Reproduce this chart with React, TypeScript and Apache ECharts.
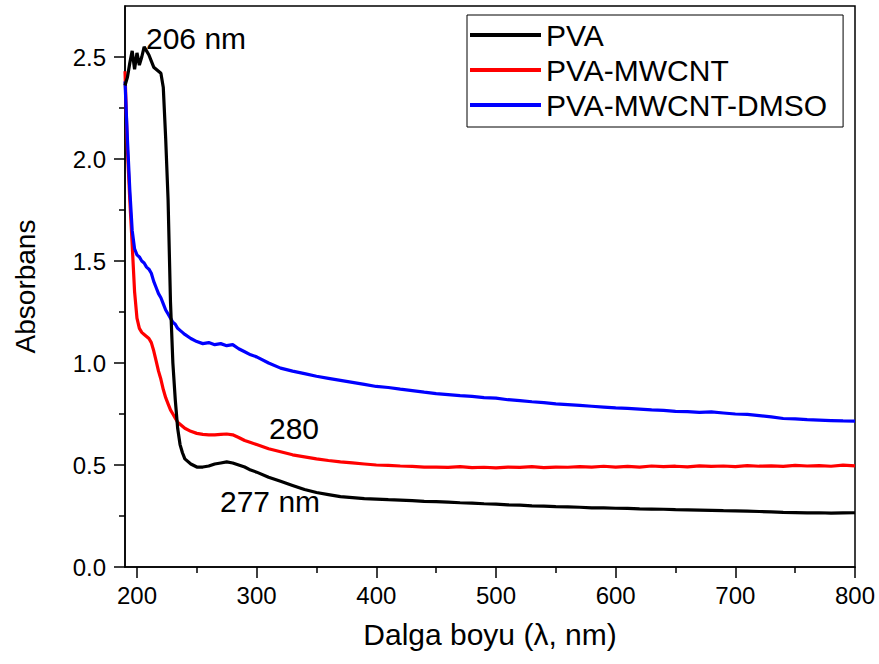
import React, { useEffect, useRef } from "react";
import * as echarts from "echarts";

const wavelength = [
  190, 192, 194, 196, 198, 200, 202, 204, 206, 208, 210, 212, 214, 216, 218, 220, 222, 224, 226, 228,
  230, 232, 234, 236, 238, 240, 245, 250, 255, 260, 265, 270, 275, 280, 285, 290, 295,
  300, 310, 320, 330, 340, 350, 360, 370, 380, 390, 400, 410, 420, 430, 440, 450, 460, 470, 480, 490,
  500, 510, 520, 530, 540, 550, 560, 570, 580, 590, 600, 610, 620, 630, 640, 650, 660, 670, 680, 690,
  700, 710, 720, 730, 740, 750, 760, 770, 780, 790, 800,
];

const pva = [
  2.36, 2.4, 2.47, 2.53, 2.44, 2.52, 2.46, 2.5, 2.55, 2.53, 2.51, 2.48, 2.45, 2.44, 2.43, 2.42, 2.35, 2.1, 1.8, 1.3,
  1.0, 0.82, 0.68, 0.6, 0.56, 0.53, 0.505, 0.49, 0.49, 0.495, 0.505, 0.51, 0.515, 0.51, 0.5, 0.49, 0.475,
  0.465, 0.44, 0.42, 0.4, 0.38, 0.365, 0.355, 0.345, 0.34, 0.335, 0.333, 0.33, 0.328, 0.325, 0.322, 0.32, 0.318, 0.315, 0.313, 0.31,
  0.308, 0.305, 0.303, 0.3, 0.298, 0.296, 0.295, 0.293, 0.29, 0.29, 0.288, 0.287, 0.285, 0.284, 0.283, 0.281, 0.28, 0.279, 0.278, 0.276,
  0.275, 0.274, 0.272, 0.27, 0.268, 0.267, 0.265, 0.266, 0.264, 0.265, 0.266,
];

const pvaMwcnt = [
  2.43, 2.05, 1.8, 1.58, 1.35, 1.22, 1.17, 1.15, 1.14, 1.13, 1.12, 1.1, 1.06, 1.01, 0.96, 0.92, 0.87, 0.83, 0.8, 0.77,
  0.75, 0.73, 0.71, 0.7, 0.69, 0.68, 0.665, 0.655, 0.65, 0.648, 0.648, 0.65, 0.652, 0.648, 0.635, 0.62, 0.61,
  0.6, 0.58, 0.565, 0.55, 0.54, 0.53, 0.522, 0.515, 0.51, 0.505, 0.5, 0.498, 0.495, 0.493, 0.49, 0.49, 0.488, 0.492, 0.487, 0.489,
  0.486, 0.49, 0.488, 0.492, 0.487, 0.49, 0.489, 0.492, 0.49, 0.494, 0.49, 0.493, 0.49, 0.495, 0.492, 0.494, 0.491, 0.496, 0.493, 0.495,
  0.492, 0.497, 0.494, 0.496, 0.493, 0.498, 0.495, 0.497, 0.494, 0.499, 0.496,
];

const pvaMwcntDmso = [
  2.38, 2.1, 1.85, 1.65, 1.56, 1.53, 1.52, 1.5, 1.49, 1.47, 1.46, 1.44, 1.4, 1.37, 1.34, 1.32, 1.29, 1.26, 1.24, 1.22,
  1.2, 1.19, 1.17, 1.16, 1.15, 1.14, 1.12, 1.105, 1.095, 1.1, 1.09, 1.095, 1.085, 1.09, 1.07, 1.055, 1.04,
  1.03, 1.0, 0.975, 0.96, 0.948, 0.935, 0.925, 0.915, 0.905, 0.895, 0.885, 0.88, 0.872, 0.865, 0.857, 0.85, 0.845, 0.84, 0.836, 0.83,
  0.828, 0.82, 0.816, 0.81, 0.806, 0.8, 0.796, 0.792, 0.788, 0.784, 0.78, 0.778, 0.774, 0.77, 0.768, 0.763, 0.762, 0.758, 0.76, 0.755,
  0.75, 0.748, 0.742, 0.736, 0.728, 0.726, 0.722, 0.72, 0.718, 0.716, 0.715,
];

const xMajor = [200, 300, 400, 500, 600, 700, 800];
const xMinor = [250, 350, 450, 550, 650, 750];
const yMajor = [0, 0.5, 1.0, 1.5, 2.0, 2.5];
const yMinor = [0.25, 0.75, 1.25, 1.75, 2.25];

const seriesNames = ["PVA", "PVA-MWCNT", "PVA-MWCNT-DMSO"];
const seriesColors = ["#000000", "#ff0000", "#0000ff"];
const seriesValues = [pva, pvaMwcnt, pvaMwcntDmso];

const FONT = "Liberation Sans, Arial, sans-serif";

export default function App() {
  const ref = useRef<HTMLDivElement>(null);
  useEffect(() => {
    document.body.style.margin = "0";
    if (!ref.current) return;
    const chart = echarts.init(ref.current, null, { renderer: "svg" });
    const axisText = { color: "#000", fontSize: 24, fontFamily: FONT };
    const tickStyle = { color: "#000", width: 1.5 };
    chart.setOption({
      animation: false,
      backgroundColor: "#fff",
      grid: {
        left: 125,
        right: 24,
        top: 6,
        bottom: 97,
        show: true,
        borderColor: "#000",
        borderWidth: 1.5,
      },
      legend: {
        data: seriesNames,
        orient: "vertical",
        left: 467,
        top: 15,
        borderColor: "#000",
        borderWidth: 1,
        padding: [5, 16, 7, 3],
        itemGap: 5,
        itemWidth: 71,
        itemHeight: 4,
        icon: "rect",
        textStyle: { color: "#000", fontSize: 30, fontFamily: FONT, lineHeight: 30 },
      },
      xAxis: [
        {
          type: "value",
          min: 190,
          max: 800,
          name: "Dalga boyu (λ, nm)",
          nameLocation: "middle",
          nameGap: 52,
          nameTextStyle: { color: "#000", fontSize: 30, fontFamily: FONT },
          axisLine: { lineStyle: { color: "#000", width: 1.5 } },
          axisTick: { show: true, customValues: xMajor, length: 11, lineStyle: tickStyle },
          axisLabel: { ...axisText, customValues: xMajor, margin: 16 },
          splitLine: { show: false },
        },
        {
          type: "value",
          min: 190,
          max: 800,
          position: "bottom",
          axisLine: { show: false },
          axisTick: { show: true, customValues: xMinor, length: 6, lineStyle: tickStyle },
          axisLabel: { show: false },
          splitLine: { show: false },
        },
      ],
      yAxis: [
        {
          type: "value",
          min: 0,
          max: 2.75,
          name: "Absorbans",
          nameLocation: "middle",
          nameGap: 86,
          nameTextStyle: { color: "#000", fontSize: 28, fontFamily: FONT },
          axisLine: { show: true, lineStyle: { color: "#000", width: 1.5 } },
          axisTick: { show: true, customValues: yMajor, length: 11, lineStyle: tickStyle },
          axisLabel: { ...axisText, customValues: yMajor, margin: 19, formatter: (v: number) => v.toFixed(1) },
          splitLine: { show: false },
        },
        {
          type: "value",
          min: 0,
          max: 2.75,
          position: "left",
          axisLine: { show: false },
          axisTick: { show: true, customValues: yMinor, length: 6, lineStyle: tickStyle },
          axisLabel: { show: false },
          splitLine: { show: false },
        },
      ],
      series: seriesNames.map((name, i) => ({
        name,
        type: "line",
        xAxisIndex: 0,
        yAxisIndex: 0,
        showSymbol: false,
        symbol: "none",
        z: i === 0 ? 5 : 3,
        color: seriesColors[i],
        lineStyle: { color: seriesColors[i], width: 3.2 },
        data: wavelength.map((w, j) => [w, seriesValues[i][j]]),
      })),
      graphic: [
        { type: "text", left: 146, top: 23, style: { text: "206 nm", fill: "#000", fontSize: 30, fontFamily: FONT } },
        { type: "text", left: 269, top: 413, style: { text: "280", fill: "#000", fontSize: 30, fontFamily: FONT } },
        { type: "text", left: 220, top: 486, style: { text: "277 nm", fill: "#000", fontSize: 30, fontFamily: FONT } },
      ],
    });
    return () => chart.dispose();
  }, []);
  return <div ref={ref} style={{ width: 879, height: 664 }} />;
}
